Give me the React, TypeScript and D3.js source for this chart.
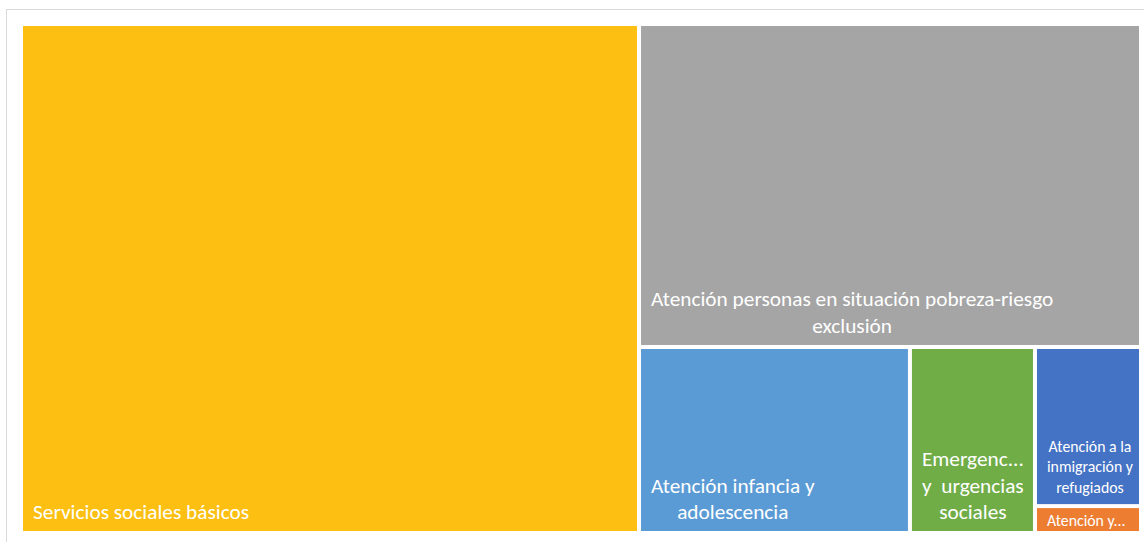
import React from "react";
import * as d3 from "d3";

// Categories, values (share of total, %) and colours
const categories = [
  "Servicios sociales básicos",
  "Atención personas en situación pobreza-riesgo exclusión",
  "Atención infancia y adolescencia",
  "Emergencias y urgencias sociales",
  "Atención a la inmigración y refugiados",
  "Atención y...",
];
const values = [55.18, 28.44, 8.84, 4.08, 2.96, 0.5];
const colors = ["#FCBF12", "#A5A5A5", "#5B9BD5", "#70AD47", "#4472C4", "#ED7D31"];
// Label text as it is wrapped in the reference
const labelLines = [
  ["Servicios sociales básicos"],
  ["Atención personas en situación pobreza-riesgo", "exclusión"],
  ["Atención infancia y", "adolescencia"],
  ["Emergenc...", "y  urgencias", "sociales"],
  ["Atención a la", "inmigración y", "refugiados"],
  ["Atención y..."],
];

const W = 1144;
const H = 542;
const FONT = "Carlito, Lato, 'Open Sans', sans-serif";

let ctx: CanvasRenderingContext2D | null = null;
function measure(text: string, size: number) {
  if (!ctx) ctx = document.createElement("canvas").getContext("2d");
  if (!ctx) return text.length * size * 0.5;
  ctx.font = `${size}px ${FONT}`;
  return ctx.measureText(text).width;
}

export default function App() {
  const data = categories.map((name, i) => ({ name, value: values[i], color: colors[i], lines: labelLines[i] }));
  const root = d3
    .hierarchy({ name: "root", children: data } as any)
    .sum((d: any) => d.value || 0);
  d3.treemap().tile(d3.treemapSquarify.ratio(1)).size([1116, 505]).paddingInner(4)(root as any);
  const leaves = root.leaves() as any[];

  return (
    <svg width={W} height={H} style={{ position: "absolute", left: 0, top: 0, background: "#fff" }}>
      <rect x={6.5} y={9.5} width={1160} height={560} fill="#fff" stroke="#D9D9D9" strokeWidth={1} />
      <g transform="translate(23,26)">
        {leaves.map((leaf, i) => {
          const d = leaf.data;
          const w = leaf.x1 - leaf.x0;
          const h = leaf.y1 - leaf.y0;
          const small = w < 110;
          const fs = small ? 15.8 : 21.3;
          const lh = small ? 20.5 : 26.5;
          const lines: string[] = d.lines;
          const blockW = Math.max(...lines.map((l) => measure(l, fs)));
          const cx = leaf.x0 + 10 + blockW / 2;
          const lastBase = leaf.y1 - (h < 40 ? 5.5 : small ? 11.5 : 12);
          return (
            <g key={i}>
              <rect x={leaf.x0} y={leaf.y0} width={w} height={h} fill={d.color} />
              {lines.map((l, j) => (
                <text
                  key={j}
                  x={lines.length > 1 ? cx : leaf.x0 + 10}
                  y={lastBase - (lines.length - 1 - j) * lh}
                  textAnchor={lines.length > 1 ? "middle" : "start"}
                  fill="#fff"
                  fontSize={fs}
                  fontFamily={FONT}
                  style={{ whiteSpace: "pre" }}
                >
                  {l}
                </text>
              ))}
            </g>
          );
        })}
      </g>
    </svg>
  );
}
